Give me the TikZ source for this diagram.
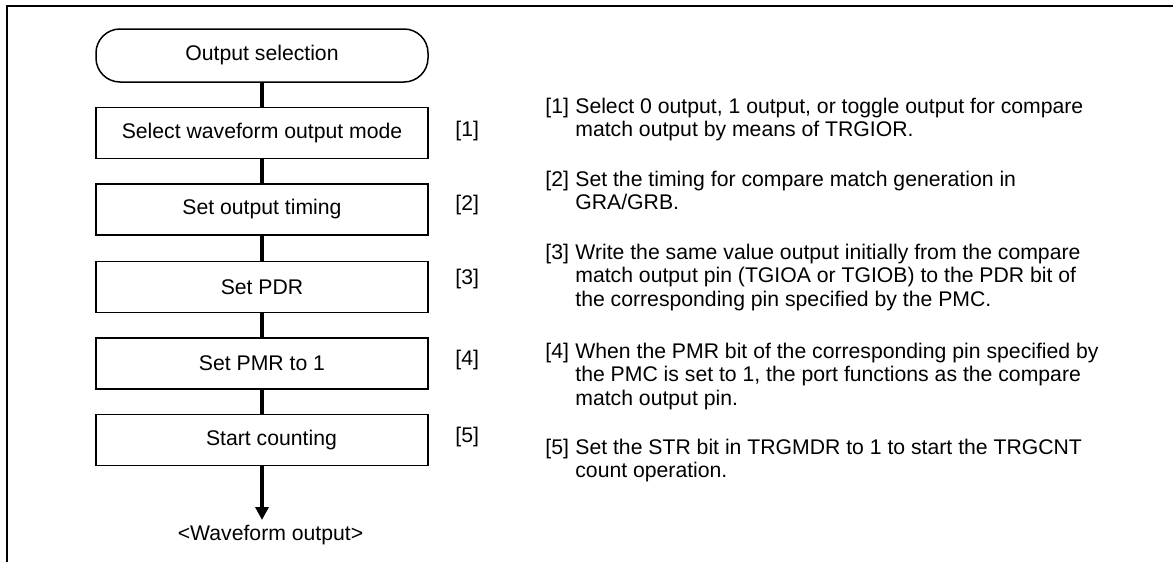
\documentclass[tikz,border=0pt]{standalone}
\usepackage{fontspec}
\setmainfont{Liberation Sans}
\usetikzlibrary{arrows.meta}
\newcommand\stepnote[2]{\begin{tabular}[t]{@{}l@{\hspace{3.2pt}}l@{}}#1&\begin{tabular}[t]{@{}l@{}}#2\end{tabular}\end{tabular}}

\begin{document}
\begin{tikzpicture}[x=0.5pt,y=-0.5pt,
  every node/.style={font=\fontsize{10.6}{11.75}\selectfont,inner sep=0pt},
  stepbox/.style={draw,line width=0.75pt,minimum width=166pt,minimum height=25.5pt},
  termbox/.style={stepbox,rounded corners=12pt,minimum height=26.5pt},
  flow/.style={line width=2pt},
  numlabel/.style={anchor=base west},
  note/.style={anchor=base west}]
\useasboundingbox (0,0) rectangle (1173,562);
\draw[line width=1pt] (1173,6) -- (7,6) -- (7,562);
\node[termbox] (start) at (262,55.5) {Output selection\hspace{19pt}};
\node[stepbox] (mode) at (262,133) {Select waveform output mode};
\node[stepbox] (timing) at (262,209.5) {Set output timing\hspace{9.5pt}};
\node[stepbox] (pdr) at (262,287) {Set PDR\hspace{13pt}};
\node[stepbox] (pmr) at (262,363.5) {Set PMR to 1\hspace{4.5pt}};
\node[stepbox] (count) at (262,440) {\hspace{9.5pt}Start counting};
\node (wave) at (270.5,535) {<Waveform output>};
\draw[flow] (start) -- (mode);
\draw[flow] (mode) -- (timing);
\draw[flow] (timing) -- (pdr);
\draw[flow] (pdr) -- (pmr);
\draw[flow] (pmr) -- (count);
\draw[flow,-{Triangle[width=6.5pt,length=6.5pt]}] (count.south) -- (count.south |- 0,520);
\node[numlabel] (l1) at (455,136) {[1]};
\node[numlabel] (l2) at (455,210) {[2]};
\node[numlabel] (l3) at (455,284) {[3]};
\node[numlabel] (l4) at (455,365) {[4]};
\node[numlabel] (l5) at (455,442) {[5]};
\node[note] (n1) at (545,113) {\stepnote{[1]}{Select 0 output, 1 output, or toggle output for compare\\match output by means of TRGIOR.}};
\node[note] (n2) at (545,186) {\stepnote{[2]}{Set the timing for compare match generation in\\GRA/GRB.}};
\node[note] (n3) at (545,259) {\stepnote{[3]}{Write the same value output initially from the compare\\match output pin (TGIOA or TGIOB) to the PDR bit of\\the corresponding pin specified by the PMC.}};
\node[note] (n4) at (545,358) {\stepnote{[4]}{When the PMR bit of the corresponding pin specified by\\the PMC is set to 1, the port functions as the compare\\match output pin.}};
\node[note] (n5) at (545,454) {\stepnote{[5]}{Set the STR bit in TRGMDR to 1 to start the TRGCNT\\count operation.}};
\end{tikzpicture}
\end{document}
